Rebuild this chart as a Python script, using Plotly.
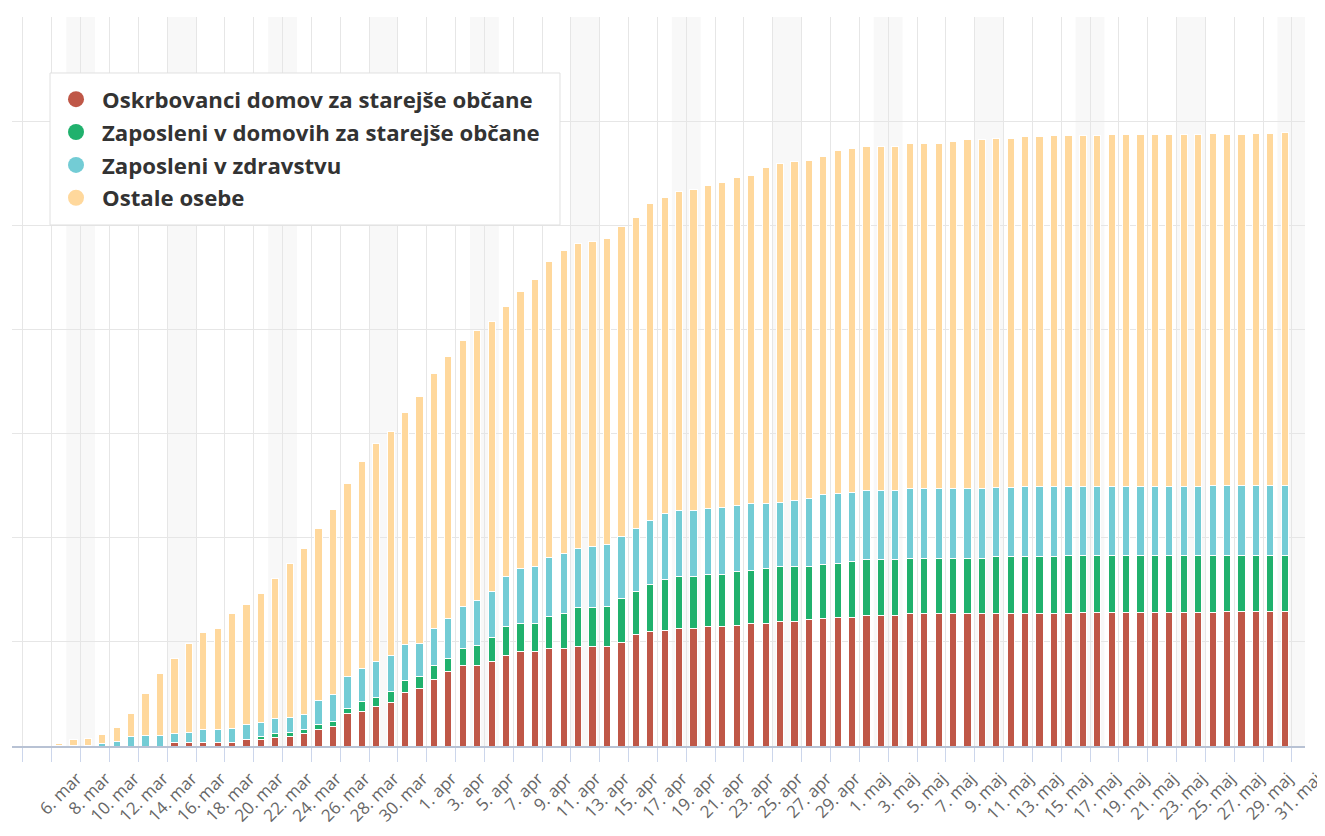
import pandas as pd
import plotly.graph_objects as go

# dnevi od 4. marca do 30. maja 2020
dates = pd.date_range("2020-03-04", "2020-05-30", freq="D")

oskrbovanci = [0, 0, 0, 0, 0, 0, 0, 0, 0, 0,
               8, 8, 8, 8, 8, 16, 16, 20, 24, 29,
               39, 46, 78, 83, 96, 105, 129, 137, 159, 178,
               194, 194, 203, 218, 226, 227, 234, 234, 238, 238,
               238, 248, 268, 274, 278, 282, 282, 286, 288, 290,
               294, 294, 300, 300, 304, 305, 309, 309, 314, 314,
               314, 318, 318, 318, 318, 318, 318, 318, 319, 319,
               319, 319, 319, 320, 320, 320, 320, 320, 321, 321,
               321, 321, 321, 322, 322, 322, 322, 322]

zaposleni_dso = [0, 0, 0, 0, 0, 0, 0, 0, 0, 0,
                 0, 0, 0, 0, 0, 0, 8, 9, 9, 10,
                 12, 14, 13, 24, 21, 26, 28, 30, 34, 33,
                 40, 48, 58, 69, 69, 68, 77, 85, 94, 94,
                 98, 106, 104, 114, 121, 126, 126, 126, 124, 130,
                 128, 132, 130, 130, 128, 131, 129, 133, 133, 133,
                 133, 133, 133, 133, 133, 133, 133, 138, 137, 137,
                 137, 137, 138, 137, 137, 137, 137, 137, 136, 136,
                 137, 137, 137, 136, 136, 136, 136, 136]

zaposleni_zdr = [0, 0, 2, 2, 2, 7, 12, 24, 25, 25,
                 21, 25, 31, 31, 35, 35, 33, 36, 36, 36,
                 59, 63, 76, 78, 86, 87, 86, 80, 90, 94,
                 102, 108, 111, 121, 131, 135, 141, 143, 143, 147,
                 147, 149, 151, 153, 158, 157, 157, 157, 161, 157,
                 159, 155, 155, 159, 163, 168, 169, 167, 166, 166,
                 166, 166, 166, 166, 166, 166, 166, 165, 165, 166,
                 166, 166, 165, 166, 166, 166, 166, 167, 167, 167,
                 166, 166, 167, 167, 167, 167, 167, 167]

ostali = [1, 2, 4, 14, 15, 21, 33, 53, 102, 150,
          182, 213, 234, 243, 275, 288, 310, 338, 369, 399,
          413, 444, 462, 498, 524, 537, 558, 593, 611, 629,
          637, 647, 646, 646, 665, 691, 710, 727, 731, 731,
          735, 743, 745, 762, 759, 766, 771, 776, 780, 787,
          788, 808, 813, 813, 811, 810, 822, 825, 825, 825,
          825, 830, 830, 830, 834, 838, 838, 838, 838, 841,
          842, 843, 843, 843, 843, 844, 845, 844, 844, 845,
          845, 845, 845, 844, 844, 845, 846, 848]

series = [
    ("Oskrbovanci domov za starejše občane", oskrbovanci, "#bf5747"),
    ("Zaposleni v domovih za starejše občane", zaposleni_dso, "#20b16d"),
    ("Zaposleni v zdravstvu", zaposleni_zdr, "#73ccd5"),
    ("Ostale osebe", ostali, "#ffd89c"),
]

months = {3: "mar", 4: "apr", 5: "maj"}
tick_dates = pd.date_range("2020-03-04", "2020-05-31", freq="2D")
tick_text = [f"{d.day}. {months[d.month]}" for d in tick_dates]
tick_text[0] = ""  # prvi napis v izvirniku ne pade na sliko

DAY = 86400000

fig = go.Figure()
for i, (name, vals, color) in enumerate(series):
    fig.add_trace(go.Bar(x=dates, y=vals, name=name, showlegend=False,
                         xperiod=DAY, xperiodalignment="middle", width=0.5 * DAY,
                         marker=dict(color=color, line=dict(color="white", width=1))))
    # okrogel znak v legendi
    fig.add_trace(go.Scatter(x=[None], y=[None], mode="markers", name=name,
                             legendgroup=str(i), marker=dict(color=color, size=16)))

# osenčeni vikendi
for sat in pd.date_range("2020-03-07", "2020-05-30", freq="7D"):
    fig.add_shape(type="rect", xref="x", yref="paper", x0=sat, x1=sat + pd.Timedelta(days=2),
                  y0=0, y1=1, fillcolor="#f8f8f8", line_width=0, layer="below")

# okvir legende
fig.add_shape(type="rect", xref="paper", yref="paper", x0=0.0294, x1=0.4238, y0=0.7147, y1=0.9232,
              fillcolor="white", line=dict(color="#e0e0e0", width=1), layer="above")

fig.update_layout(
    width=1317, height=820,
    margin=dict(l=4, r=20, t=9, b=82),
    barmode="stack",
    paper_bgcolor="white", plot_bgcolor="white",
    font=dict(family="Open Sans", color="#666666"),
    legend=dict(x=0.0294, y=0.916, xanchor="left", yanchor="top",
                bgcolor="rgba(0,0,0,0)", borderwidth=0,
                traceorder="grouped", tracegroupgap=1, itemwidth=42,
                font=dict(family="Open Sans", size=22.2, color="#333333", weight="bold")),
)
fig.update_xaxes(type="date", range=["2020-03-03 05:42", "2020-05-31 21:47"],
                 tickmode="array", tickvals=tick_dates, ticktext=tick_text,
                 tickangle=-45, tickfont=dict(size=17, color="#666666"),
                 ticks="outside", ticklen=14, tickcolor="#ccd6eb", tickwidth=1,
                 ticklabelshift=25, ticklabelstandoff=0, ticklabeloverflow="allow",
                 automargin=False,
                 showgrid=True, gridcolor="#e6e6e6", gridwidth=1,
                 showline=True, linecolor="#b8c2d4", linewidth=2, zeroline=False)
fig.update_yaxes(range=[0, 1750], dtick=250, showticklabels=False, automargin=False,
                 showgrid=True, gridcolor="#e6e6e6", gridwidth=1,
                 zeroline=False, showline=False)

fig.write_html("out.html")
